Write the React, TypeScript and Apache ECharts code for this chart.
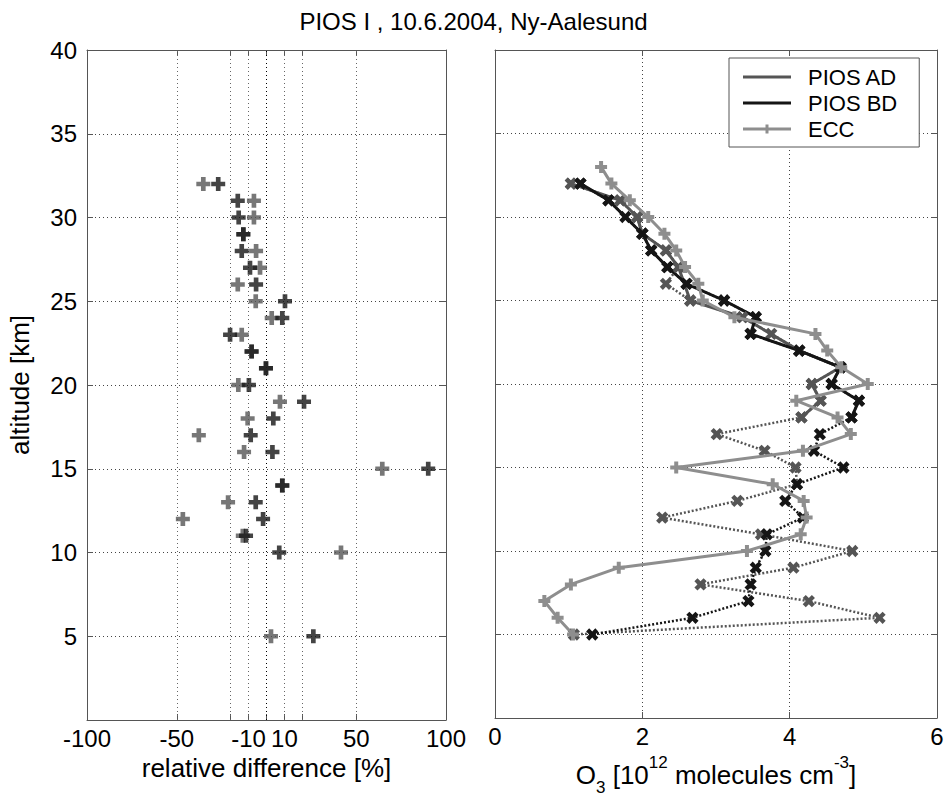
import React, { useEffect, useRef } from 'react';
import * as echarts from 'echarts';

// ---- Left panel: relative difference (PIOS - ECC)/ECC [%] ----
const altRel = [32, 31, 30, 29, 28, 27, 26, 25, 24, 23, 22, 21, 20, 19, 18, 17, 16, 15, 14, 13, 12, 11, 10, 5];
const relAD = [-35.2, -7.0, -7.0, -12.9, -5.8, -3.6, -16.0, -6.0, 2.9, -13.8, -8.3, -0.3, -15.7, 7.5, -10.5, -37.7, -12.5, 64.5, 8.8, -21.4, -46.6, -13.2, 41.5, 2.5];
const relBD = [-26.9, -16.0, -15.5, -12.9, -13.8, -9.2, -5.8, 10.3, 8.8, -20.3, -8.3, -0.3, -9.8, 20.9, 3.8, -8.8, 3.3, 90.1, 8.8, -6.0, -1.9, -11.4, 7.1, 26.1];
const relTickValues = [-100, -50, -20, -10, 0, 10, 20, 50, 100];
const relLabelValues = [-100, -50, -10, 10, 50, 100];
const relGridValues = [-50, -20, -10, 10, 20, 50];
const relZeroValue = 0;

// ---- Right panel: O3 number density [1e12 molecules cm^-3] ----
const altECC = [33, 32, 31, 30, 29, 28, 27, 26, 25, 24, 23, 22, 21, 20, 19, 18, 17, 16, 15, 14, 13, 12, 11, 10, 9, 8, 7, 6, 5];
const o3ECC = [1.44, 1.58, 1.83, 2.08, 2.30, 2.46, 2.58, 2.76, 2.82, 3.25, 4.35, 4.51, 4.70, 5.06, 4.09, 4.65, 4.83, 4.18, 2.46, 3.77, 4.19, 4.23, 4.15, 3.42, 1.68, 1.03, 0.67, 0.85, 1.06];
const altPIOS = [32, 31, 30, 29, 28, 27, 26, 25, 24, 23, 22, 21, 20, 19, 18, 17, 16, 15, 14, 13, 12, 11, 10, 9, 8, 7, 6, 5];
const o3AD = [1.03, 1.70, 1.93, 2.00, 2.32, 2.49, 2.32, 2.65, 3.36, 3.75, 4.13, 4.69, 4.30, 4.42, 4.16, 3.01, 3.66, 4.08, 4.10, 3.29, 2.27, 3.61, 4.85, 4.05, 2.79, 4.26, 5.22, 1.07];
const o3BD = [1.16, 1.54, 1.77, 2.00, 2.12, 2.34, 2.60, 3.11, 3.54, 3.47, 4.13, 4.69, 4.57, 4.94, 4.84, 4.41, 4.33, 4.73, 4.10, 3.94, 4.18, 3.69, 3.67, 3.54, 3.47, 3.44, 2.68, 1.32];
// altitudes drawn with a solid line (valid range)
const altSolidAD = [32, 31, 30, 29, 28, 27, 25, 24, 22, 21, 20, 19, 18];
const altSolidBD = [32, 31, 29, 28, 27, 26, 25, 24, 23, 22, 21, 20, 19, 18];

const FONT = '"Liberation Sans", Arial, Helvetica, sans-serif';
const PLUS = 'path://M-2,-6h4v4h4v4h-4v4h-4v-4h-4v-4h4z';
const LEG_LINE = 'path://M0,0h0.1v0.1h-0.1z M48,14h-0.1v-0.1h0.1z M0,5.5h48v3h-48z';
const LEG_ECC = 'path://M0,0h0.1v0.1h-0.1z M48,14h-0.1v-0.1h0.1z M0,5.5h48v3h-48z M22.5,2.5h3v9h-3z';

const C_AD = '#555555';
const C_BD = '#151515';
const C_ECC = '#8e8e8e';
const FRAME = '#555555';
const GRIDC = '#444444';

export default function App() {
  const ref = useRef<HTMLDivElement>(null);
  useEffect(() => {
    const chart = echarts.init(ref.current!, null, { renderer: 'svg' });
    const frameLine = { show: true, onZero: false, lineStyle: { color: FRAME, width: 1 } };
    const tick = { show: true, inside: true, length: 6, lineStyle: { color: FRAME, width: 1 } };
    const dotted = { show: true, lineStyle: { color: GRIDC, width: 1, type: [1, 3] } };
    const lookup = (vals: number[], alts: number[]) => alts.map((a) => [vals[altPIOS.indexOf(a)], a]);
    const dotLine = { width: 2.5, type: [2, 2] };

    const option: any = {
      animation: false,
      backgroundColor: '#ffffff',
      textStyle: { fontFamily: FONT },
      title: {
        text: 'PIOS I , 10.6.2004, Ny-Aalesund',
        left: 'center',
        top: 4,
        textStyle: { fontSize: 24, fontWeight: 'normal', color: '#000', fontFamily: FONT },
      },
      legend: {
        data: [
          { name: 'PIOS AD', icon: LEG_LINE },
          { name: 'PIOS BD', icon: LEG_LINE },
          { name: 'ECC', icon: LEG_ECC },
        ],
        orient: 'vertical',
        left: 729,
        top: 58,
        itemWidth: 48,
        itemHeight: 14,
        itemGap: 2,
        padding: [7, 22, 6, 14],
        backgroundColor: '#ffffff',
        borderColor: FRAME,
        borderWidth: 1,
        borderRadius: 0,
        selectedMode: false,
        z: 10,
        textStyle: { fontSize: 22, lineHeight: 24, color: '#000', fontFamily: FONT, padding: [0, 0, 0, 12] },
      },
      grid: [
        { left: 87, top: 50, width: 359, height: 670 },
        { left: 495, top: 50, width: 442, height: 670 },
      ],
      xAxis: [
        {
          gridIndex: 0, type: 'value', min: -100, max: 100, position: 'bottom',
          axisLine: frameLine,
          axisTick: { ...tick, customValues: relTickValues },
          axisLabel: { customValues: relLabelValues, fontSize: 24, color: '#000', margin: 6, fontFamily: FONT },
          splitLine: { show: false },
          name: 'relative difference [%]', nameLocation: 'middle', nameGap: 28,
          nameTextStyle: { fontSize: 26, color: '#000', fontFamily: FONT, verticalAlign: 'top' },
        },
        {
          gridIndex: 0, type: 'value', min: -100, max: 100, position: 'top',
          axisLine: frameLine,
          axisTick: { ...tick, customValues: relTickValues },
          axisLabel: { show: false },
          splitLine: { show: false },
        },
        {
          gridIndex: 1, type: 'value', min: 0, max: 6, interval: 2, position: 'bottom',
          axisLine: frameLine,
          axisTick: tick,
          axisLabel: { fontSize: 24, color: '#000', margin: 6, fontFamily: FONT },
          splitLine: dotted,
          name: '{a|O}{sub|3}{a| [10}{sup|12}{a| molecules cm}{sup|-3}{a|]}',
          nameLocation: 'middle', nameGap: 36,
          nameTextStyle: {
            verticalAlign: 'top',
            rich: {
              a: { fontSize: 26, lineHeight: 42, color: '#000', fontFamily: FONT },
              sub: { fontSize: 17, lineHeight: 15, verticalAlign: 'bottom', color: '#000', fontFamily: FONT },
              sup: { fontSize: 17, lineHeight: 15, verticalAlign: 'top', color: '#000', fontFamily: FONT },
            },
          },
        },
        {
          gridIndex: 1, type: 'value', min: 0, max: 6, interval: 2, position: 'top',
          axisLine: frameLine, axisTick: tick, axisLabel: { show: false }, splitLine: { show: false },
        },
      ],
      yAxis: [
        {
          gridIndex: 0, type: 'value', min: 0, max: 40, interval: 5, position: 'left',
          axisLine: frameLine, axisTick: tick,
          axisLabel: { fontSize: 24, color: '#000', margin: 10, fontFamily: FONT, formatter: (v: number) => (v === 0 ? '' : String(v)) },
          splitLine: dotted,
          name: 'altitude [km]', nameLocation: 'middle', nameGap: 54,
          nameTextStyle: { fontSize: 26, color: '#000', fontFamily: FONT },
        },
        {
          gridIndex: 0, type: 'value', min: 0, max: 40, interval: 5, position: 'right',
          axisLine: frameLine, axisTick: tick, axisLabel: { show: false }, splitLine: { show: false },
        },
        {
          gridIndex: 1, type: 'value', min: 0, max: 40, interval: 5, position: 'left',
          axisLine: frameLine, axisTick: tick, axisLabel: { show: false }, splitLine: dotted,
        },
        {
          gridIndex: 1, type: 'value', min: 0, max: 40, interval: 5, position: 'right',
          axisLine: frameLine, axisTick: tick, axisLabel: { show: false }, splitLine: { show: false },
        },
      ],
      series: [
        {
          name: 'rel AD', type: 'scatter', xAxisIndex: 0, yAxisIndex: 0,
          data: altRel.map((a, i) => [relAD[i], a]),
          symbol: PLUS, symbolSize: 14, itemStyle: { color: C_AD }, z: 3,
          markLine: {
            silent: true, symbol: 'none', label: { show: false }, z: 1,
            lineStyle: { color: '#666', width: 1, type: [1, 3] },
            data: [
              ...relGridValues.map((v) => ({ xAxis: v })),
              { xAxis: relZeroValue, lineStyle: { color: '#000', width: 1, type: [1, 3] } },
            ],
          },
        },
        {
          name: 'rel BD', type: 'scatter', xAxisIndex: 0, yAxisIndex: 0,
          data: altRel.map((a, i) => [relBD[i], a]),
          symbol: PLUS, symbolSize: 14, itemStyle: { color: C_BD }, z: 4,
        },
        {
          name: 'AD full', type: 'line', xAxisIndex: 2, yAxisIndex: 2,
          data: altPIOS.map((a, i) => [o3AD[i], a]),
          symbol: PLUS, symbolRotate: 45, symbolSize: 13, showAllSymbol: true,
          itemStyle: { color: C_AD }, lineStyle: { color: C_AD, ...dotLine }, z: 3,
        },
        {
          name: 'BD full', type: 'line', xAxisIndex: 2, yAxisIndex: 2,
          data: altPIOS.map((a, i) => [o3BD[i], a]),
          symbol: PLUS, symbolRotate: 45, symbolSize: 13, showAllSymbol: true,
          itemStyle: { color: C_BD }, lineStyle: { color: C_BD, ...dotLine }, z: 3,
        },
        {
          name: 'PIOS AD', type: 'line', xAxisIndex: 2, yAxisIndex: 2,
          data: lookup(o3AD, altSolidAD),
          symbol: PLUS, symbolRotate: 45, symbolSize: 13, showAllSymbol: true,
          itemStyle: { color: C_AD }, lineStyle: { color: C_AD, width: 3 }, z: 4,
        },
        {
          name: 'PIOS BD', type: 'line', xAxisIndex: 2, yAxisIndex: 2,
          data: lookup(o3BD, altSolidBD),
          symbol: PLUS, symbolRotate: 45, symbolSize: 13, showAllSymbol: true,
          itemStyle: { color: C_BD }, lineStyle: { color: C_BD, width: 3 }, z: 4,
        },
        {
          name: 'ECC', type: 'line', xAxisIndex: 2, yAxisIndex: 2,
          data: altECC.map((a, i) => [o3ECC[i], a]),
          symbol: PLUS, symbolSize: 12, showAllSymbol: true,
          itemStyle: { color: C_ECC }, lineStyle: { color: C_ECC, width: 3 }, z: 5,
        },
      ],
    };
    chart.setOption(option);
    return () => chart.dispose();
  }, []);
  return (
    <div
      ref={ref}
      style={{ position: 'fixed', left: 0, top: 0, width: 947, height: 801, background: '#fff' }}
    />
  );
}
